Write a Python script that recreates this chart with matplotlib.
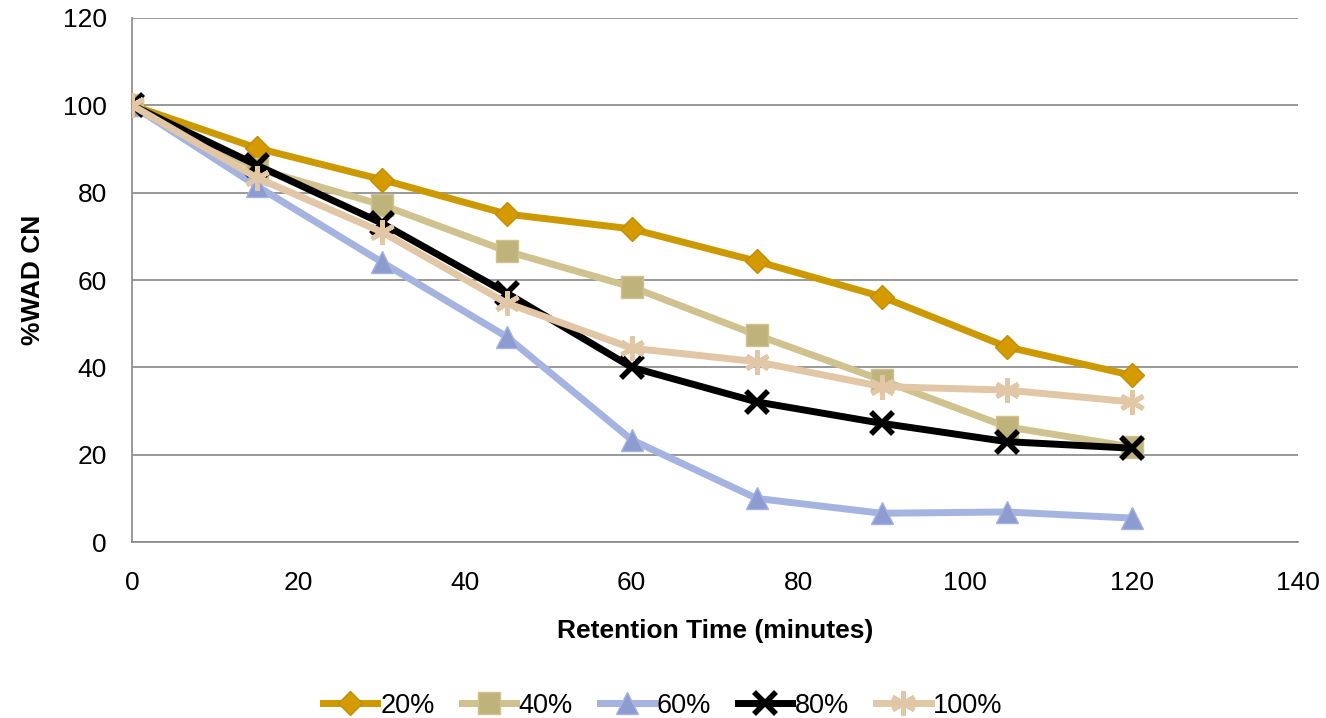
import matplotlib.pyplot as plt
import matplotlib as mpl

mpl.rcParams['font.family'] = ['Liberation Sans', 'DejaVu Sans']

# retention time (minutes)
times = [0, 15, 30, 45, 60, 75, 90, 105, 120]

# %WAD CN per series
wad_20 = [100, 90.2, 83.0, 75.1, 71.7, 64.3, 56.2, 44.7, 38.2]
wad_40 = [100, 85.5, 77.2, 66.6, 58.4, 47.4, 37.1, 26.4, 21.8]
wad_60 = [100, 81.5, 64.1, 47.0, 23.4, 10.0, 6.6, 6.9, 5.5]
wad_80 = [100, 86.3, 73.0, 57.0, 40.0, 32.1, 27.2, 23.0, 21.5]
wad_100 = [100, 83.4, 71.0, 54.7, 44.4, 41.3, 35.6, 34.8, 32.1]

labels = ['20%', '40%', '60%', '80%', '100%']


def main():
    fig = plt.figure(figsize=(13.26, 7.18), dpi=100)
    ax = fig.add_axes([0.0995, 0.245, 0.8795, 0.730])

    lw = 5.0
    ax.plot(times, wad_20, color='#CC9900', lw=lw, marker='D', ms=12,
            mfc='#D49A00', mec='#C08E00', label=labels[0], zorder=3)
    ax.plot(times, wad_40, color='#CFC28E', lw=lw, marker='s', ms=16,
            mfc='#BFB37C', mec='#CFC28E', label=labels[1], zorder=4)
    ax.plot(times, wad_60, color='#A5B3E0', lw=lw, marker='^', ms=16,
            mfc='#8C9BD0', mec='#A5B3E0', label=labels[2], zorder=5)
    ax.plot(times, wad_80, color='black', lw=lw, marker='x', ms=16,
            mew=4, label=labels[3], zorder=6)
    ax.plot(times, wad_100, color='#E2C7A6', lw=lw, marker=(6, 2, 0), ms=18,
            mew=3.5, mec='#E2C7A6', label=labels[4], zorder=7)

    ax.set_xlim(0, 140)
    ax.set_ylim(0, 120)
    ax.set_xticks(range(0, 141, 20))
    ax.set_yticks(range(0, 121, 20))
    ax.yaxis.grid(True, color='#888888', lw=1.2)
    ax.set_axisbelow(True)
    for s in ['top', 'right']:
        ax.spines[s].set_visible(False)
    for s in ['left', 'bottom']:
        ax.spines[s].set_color('#888888')
        ax.spines[s].set_linewidth(1.2)
    ax.tick_params(axis='both', length=0, labelsize=19)
    ax.tick_params(axis='x', pad=21)
    ax.tick_params(axis='y', pad=18)

    ax.set_xlabel('Retention Time (minutes)', fontsize=19, fontweight='bold', labelpad=17)
    ax.set_ylabel('%WAD CN', fontsize=19, fontweight='bold', labelpad=13)

    fig.legend(loc='lower center', bbox_to_anchor=(0.5, -0.035), ncol=5, frameon=False,
               fontsize=19.5, handlelength=2.0, handletextpad=0.1, columnspacing=1.0)

    fig.savefig('out.png', dpi=100)


if __name__ == '__main__':
    main()
